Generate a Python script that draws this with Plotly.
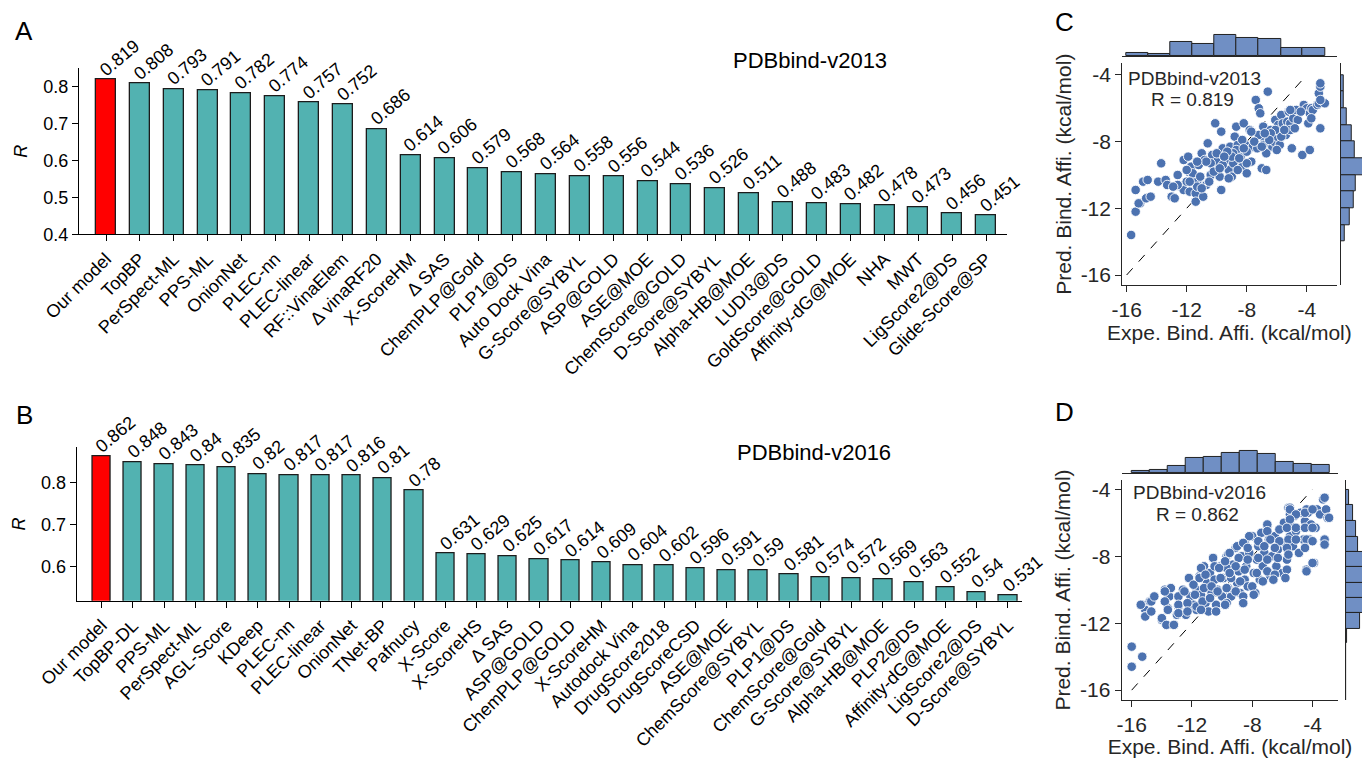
import numpy as np
import plotly.graph_objects as go

FONT = "Liberation Sans, Arial, sans-serif"
TEAL = "#52b2b1"
RED = "#ff0000"
BLUE = "#4c72b0"
HIST_FILL = "rgb(112,143,196)"

# ---------------- bar panels: Pearson R on the core sets ----------------
methods_2013 = ["Our model", "TopBP", "PerSpect-ML", "PPS-ML", "OnionNet", "PLEC-nn",
                "PLEC-linear", "RF::VinaElem", "Δ vinaRF20", "X-ScoreHM", "Δ SAS",
                "ChemPLP@Gold", "PLP1@DS", "Auto Dock Vina", "G-Score@SYBYL", "ASP@GOLD",
                "ASE@MOE", "ChemScore@GOLD", "D-Score@SYBYL", "Alpha-HB@MOE", "LUDI3@DS",
                "GoldScore@GOLD", "Affinity-dG@MOE", "NHA", "MWT", "LigScore2@DS",
                "Glide-Score@SP"]
r_2013 = [0.819, 0.808, 0.793, 0.791, 0.782, 0.774, 0.757, 0.752, 0.686, 0.614, 0.606,
          0.579, 0.568, 0.564, 0.558, 0.556, 0.544, 0.536, 0.526, 0.511, 0.488, 0.483,
          0.482, 0.478, 0.473, 0.456, 0.451]

methods_2016 = ["Our model", "TopBP-DL", "PPS-ML", "PerSpect-ML", "AGL-Score", "KDeep",
                "PLEC-nn", "PLEC-linear", "OnionNet", "TNet-BP", "Pafnucy", "X-Score",
                "X-ScoreHS", "Δ SAS", "ASP@GOLD", "ChemPLP@GOLD", "X-ScoreHM",
                "Autodock Vina", "DrugScore2018", "DrugScoreCSD", "ASE@MOE",
                "ChemScore@SYBYL", "PLP1@DS", "ChemScore@Gold", "G-Score@SYBYL",
                "Alpha-HB@MOE", "PLP2@DS", "Affinity-dG@MOE", "LigScore2@DS", "D-Score@SYBYL"]
r_2016 = [0.862, 0.848, 0.843, 0.84, 0.835, 0.82, 0.817, 0.817, 0.816, 0.81, 0.78, 0.631,
          0.629, 0.625, 0.617, 0.614, 0.609, 0.604, 0.602, 0.596, 0.591, 0.59, 0.581,
          0.574, 0.572, 0.569, 0.563, 0.552, 0.54, 0.531]

# ---------------- scatter panels: experimental vs predicted affinity ----------------
expe_2013 = [-15.7, -15.4, -15.4, -15.1, -15.2, -14.9, -14.6, -14.7, -14.4, -13.9, -13.7,
             -13.4, -13.3, -13.0, -12.8, -12.6, -12.4, -12.2, -11.9, -12.2, -12.0, -11.9,
             -11.8, -11.7, -11.6, -11.4, -11.4, -11.3, -11.2, -11.0, -10.9, -10.8, -10.7,
             -10.6, -10.4, -10.3, -10.1, -10.0, -9.9, -9.8, -9.7, -9.7, -9.6, -9.4, -9.3,
             -9.2, -9.1, -9.0, -8.9, -8.8, -8.7, -8.6, -8.4, -8.3, -8.2, -8.1, -8.0, -7.9,
             -7.8, -7.7, -7.6, -7.4, -7.2, -7.1, -7.0, -6.9, -6.8, -6.7, -6.6, -6.4, -6.3,
             -6.2, -6.1, -6.0, -5.9, -5.8, -5.7, -5.6, -5.4, -5.3, -5.2, -5.1, -5.0, -4.9,
             -4.7, -4.6, -4.3, -4.2, -4.0, -3.9, -3.8, -3.8, -3.7, -3.6, -3.3, -3.2, -3.2,
             -3.1, -3.1, -3.1, -2.8, -3.1, -7.3, -7.2, -7.7, -8.0, -8.3, -8.7, -8.9, -9.6,
             -10.0, -10.4, -11.1, -11.3, -11.8, -12.0, -5.7, -6.1, -6.4, -6.9, -6.7, -6.0,
             -5.1, -8.0, -9.0, -8.6, -9.3, -10.7, -11.3, -12.6, -12.9, -5.1, -4.4, -4.8,
             -3.7, -9.5, -8.5, -7.5, -6.5, -10.2, -9.8, -8.2, -7.0, -6.8, -5.5, -9.2,
             -11.0, -10.5]
pred_2013 = [-13.6, -12.2, -10.9, -11.7, -11.7, -10.4, -10.3, -11.4, -11.3, -10.4, -9.3,
             -10.3, -10.6, -11.3, -11.4, -10.0, -10.7, -9.1, -8.9, -10.9, -10.4, -9.8,
             -11.0, -9.5, -9.9, -11.1, -11.6, -10.4, -9.4, -8.7, -11.3, -9.1, -10.6,
             -8.1, -10.0, -8.8, -6.9, -9.2, -9.7, -10.1, -7.4, -10.9, -8.4, -8.8, -9.1,
             -9.7, -8.3, -10.1, -9.3, -7.7, -7.1, -8.2, -8.9, -9.5, -6.9, -8.2, -9.9, -8.5,
             -7.3, -9.2, -8.3, -5.5, -6.0, -6.3, -9.6, -7.1, -7.9, -9.7, -5.0, -7.3, -8.3,
             -8.0, -6.7, -7.7, -7.0, -8.2, -6.4, -6.9, -7.6, -6.8, -6.2, -6.9, -8.4, -6.6,
             -6.1, -6.7, -8.8, -5.8, -6.0, -6.9, -8.5, -6.3, -6.0, -6.1, -5.8, -5.7, -5.1,
             -7.2, -4.7, -4.5, -5.7, -5.5, -8.4, -7.6, -7.4, -8.6, -7.9, -8.5, -8.7, -9.4,
             -8.7, -9.3, -10.1, -10.7, -10.4, -9.7, -7.7, -7.3, -7.5, -8.2, -8.7, -8.5,
             -7.3, -9.3, -8.9, -9.7, -8.6, -9.2, -9.2, -10.6, -10.7, -6.1, -6.2, -7.2,
             -6.6, -8.9, -9.0, -8.0, -7.9, -9.8, -9.6, -8.4, -8.3, -7.5, -7.3, -10.2,
             -10.8, -10.4]

expe_2016 = [-16.0, -16.0, -15.3, -15.3, -15.1, -15.1, -14.8, -14.5, -14.0, -13.7, -13.2,
             -13.8, -13.8, -13.6, -13.5, -12.9, -12.9, -13.0, -12.4, -12.6, -12.2, -12.1,
             -11.9, -11.7, -11.7, -11.5, -11.4, -11.2, -11.1, -11.0, -10.9, -10.8, -10.7,
             -10.6, -10.5, -10.4, -10.3, -10.1, -10.0, -9.9, -9.8, -9.7, -9.6, -9.5, -9.4,
             -9.3, -9.1, -9.0, -8.9, -8.8, -8.7, -8.6, -8.5, -8.5, -8.4, -8.3, -8.2, -8.0,
             -7.9, -7.8, -7.7, -7.6, -7.5, -7.4, -7.3, -7.2, -7.0, -6.9, -6.8, -6.7, -6.6,
             -6.5, -6.4, -6.3, -6.2, -6.0, -5.9, -5.8, -5.7, -5.6, -5.5, -5.5, -5.4, -5.3,
             -5.2, -5.1, -4.9, -4.8, -4.6, -4.5, -4.4, -4.3, -4.2, -4.1, -3.9, -3.8, -3.7,
             -3.5, -3.3, -3.2, -3.2, -3.1, -3.0, -3.2, -4.4, -5.5,
             -2.9, -5.5, -4.5, -4.0, -5.1, -5.5, -7.0, -7.0, -6.2, -5.7, -5.1, -4.5, -4.0,
             -8.2, -7.6, -6.8, -6.2, -5.6, -5.1, -4.4, -4.0, -3.2, -3.2, -9.0, -8.6, -8.3,
             -7.2, -6.5, -5.7, -4.9, -4.5, -9.6, -8.9, -8.3, -7.6, -7.0, -6.3, -5.6, -9.7,
             -9.1, -8.5, -7.7, -7.0, -6.5, -5.7, -4.4, -4.0, -9.4, -8.8, -7.3, -6.6, -5.8,
             -8.0, -9.6, -9.1, -8.6, -7.9, -8.6, -9.7,
             -10.6, -11.4, -12.2, -13.4, -13.8, -15.4, -14.7, -14.5, -15.1, -14.7, -13.8,
             -13.6, -14.0, -13.7, -13.2, -12.9, -12.9, -12.9, -12.5, -12.3, -12.3, -11.9,
             -11.8, -11.7, -11.5, -11.3, -11.2, -11.1, -10.8, -10.7, -10.5, -10.3, -10.2,
             -10.1, -9.8, -9.7, -9.5, -9.5, -9.8, -10.4, -11.4]
pred_2016 = [-13.4, -14.6, -14.0, -10.9, -11.2, -11.6, -10.7, -10.4, -11.8, -12.1, -12.1,
             -10.0, -10.7, -11.1, -10.4, -10.4, -11.0, -11.5, -11.5, -10.0, -9.3, -10.4,
             -10.9, -10.0, -11.2, -9.2, -10.3, -8.6, -10.8, -9.6, -11.3, -9.0, -10.2,
             -8.1, -9.4, -10.9, -10.0, -8.6, -10.4, -9.3, -10.9, -8.0, -10.0, -9.0, -10.4,
             -8.5, -7.5, -9.6, -8.9, -10.2, -8.0, -10.8, -7.2, -9.4, -8.6, -9.8, -7.8, -6.8,
             -9.0, -10.2, -8.2, -7.4, -9.4, -6.6, -8.6, -7.8, -6.2, -7.0, -9.2, -8.0, -9.4,
             -6.8, -8.6, -7.6, -6.4, -9.0, -6.0, -7.2, -8.2, -5.1, -5.5, -6.8, -6.2, -7.4,
             -5.6, -6.5, -7.8, -5.4, -7.0, -5.9, -8.8, -5.4, -7.0, -6.1, -8.4, -6.3, -5.2,
             -5.5, -4.6, -7.0, -7.3, -5.2, -5.7, -4.5, -5.2, -5.1,
             -5.7, -5.2, -5.4, -5.2, -5.5, -5.8, -6.1, -6.5, -6.4, -6.3, -6.3, -6.3, -6.3,
             -6.8, -7.1, -7.0, -7.1, -7.0, -7.0, -7.0, -7.1, -7.0, -7.3, -7.4, -7.2, -7.5,
             -7.4, -7.5, -7.5, -7.8, -7.5, -7.9, -8.1, -8.2, -8.1, -8.2, -8.1, -7.9, -8.7,
             -8.6, -8.8, -9.0, -8.9, -9.1, -8.8, -8.9, -8.4, -9.3, -9.5, -9.5, -9.4, -9.3,
             -9.8, -9.9, -10.1, -10.4, -10.3, -10.8, -10.8,
             -8.1, -8.7, -9.3, -9.9, -10.1, -10.9, -10.7, -10.4, -11.6, -11.3, -10.7,
             -11.2, -11.7, -12.1, -12.1, -10.4, -10.9, -11.4, -10.1, -10.8, -11.3, -9.7,
             -10.3, -11.0, -9.3, -10.7, -9.9, -9.1, -10.5, -9.8, -8.6, -10.1, -8.7, -9.3,
             -8.3, -9.9, -7.8, -9.0, -10.9, -11.3, -11.2]

# marginal histograms: bin edges and counts
top_edges_2013 = [-16.0, -14.53, -13.07, -11.6, -10.13, -8.67, -7.2, -5.73, -4.27, -2.8]
top_counts_2013 = [6, 3, 26, 23, 39, 34, 32, 16, 16]
side_edges_2013 = [-4.0, -5.0, -6.0, -7.0, -8.0, -9.0, -10.0, -11.0, -12.0, -13.0, -14.0]
side_counts_2013 = [5, 5, 12, 21, 27, 47, 29, 25, 17, 7]

top_edges_2016 = [-16.0, -14.81, -13.61, -12.42, -11.23, -10.03, -8.84, -7.65, -6.45,
                  -5.26, -4.07, -2.88]
top_counts_2016 = [5, 7, 15, 32, 34, 43, 47, 41, 24, 20, 17]
side_edges_2016 = [-4.04, -4.94, -5.88, -6.83, -7.73, -8.66, -9.62, -10.52, -11.41,
                   -12.37, -13.2, -14.12, -15.04, -15.96, -16.88]
side_counts_2016 = [6, 15, 21, 24, 40, 48, 50, 44, 29, 3, 0, 1, 0, 1]

aff_ticks = [-16, -12, -8, -4]
aff_tick_text = ["-16", "-12", "-8", "-4"]

fig = go.Figure()

# ---- bar panels ----
def add_bars(names, vals, xa, ya):
    idx = list(range(len(names)))
    colors = [RED] + [TEAL] * (len(names) - 1)
    fig.add_trace(go.Bar(x=idx, y=vals, width=0.59, marker=dict(color=colors,
                         line=dict(color="#1c1c1c", width=1.3)),
                         xaxis=xa, yaxis=ya, showlegend=False, hoverinfo="skip"))
    # value labels, tilted, sitting on each bar
    for i, v in zip(idx, vals):
        fig.add_annotation(x=i - 0.39, y=v, xref=xa, yref=ya, text=f"{v:g}",
                           textangle=-40, showarrow=False, xanchor="left", yanchor="bottom",
                           yshift=-3, font=dict(family=FONT, size=18, color="black"))

add_bars(methods_2013, r_2013, "x", "y")
add_bars(methods_2016, r_2016, "x2", "y2")

bar_x_common = dict(showline=True, linecolor="black", linewidth=1.3, ticks="outside",
                    ticklen=6, tickwidth=1.2, tickcolor="black", tickangle=-45,
                    tickfont=dict(family=FONT, size=18, color="black"), showgrid=False,
                    zeroline=False, automargin=False)
bar_y_common = dict(showline=True, linecolor="black", linewidth=1.3, ticks="outside",
                    ticklen=6, tickwidth=1.2, tickcolor="black",
                    tickfont=dict(family=FONT, size=18, color="black"), showgrid=False,
                    zeroline=False, automargin=False,
                    title=dict(text="<i>R</i>", font=dict(family=FONT, size=18, color="black"),
                               standoff=10))

fig.update_layout(
    xaxis=dict(domain=[0.0580, 0.7394], range=[-0.8, len(methods_2013) - 0.38],
               tickvals=list(range(len(methods_2013))), ticktext=methods_2013,
               anchor="y", **bar_x_common),
    yaxis=dict(domain=[0.6909, 0.9099], range=[0.4, 0.85], tickvals=[0.4, 0.5, 0.6, 0.7, 0.8],
               ticktext=["0.4", "0.5", "0.6", "0.7", "0.8"], anchor="x", **bar_y_common),
    xaxis2=dict(domain=[0.0563, 0.7504], range=[-0.8, len(methods_2016) - 0.55],
                tickvals=list(range(len(methods_2016))), ticktext=methods_2016,
                anchor="y2", **bar_x_common),
    yaxis2=dict(domain=[0.2075, 0.4099], range=[0.519, 0.883], tickvals=[0.6, 0.7, 0.8],
                ticktext=["0.6", "0.7", "0.8"], anchor="x2", **bar_y_common),
)

# ---- scatter panels with marginal histograms ----
def add_joint(expe, pred, top_edges, top_counts, side_edges, side_counts, n):
    xs, ys = f"x{n}", f"y{n}"
    xt, yt = f"x{n+1}", f"y{n+1}"
    xr, yr = f"x{n+2}", f"y{n+2}"
    fig.add_trace(go.Scatter(x=[-16, -4], y=[-16, -4], mode="lines",
                             line=dict(color="black", width=1, dash="dash"),
                             xaxis=xs, yaxis=ys, showlegend=False, hoverinfo="skip"))
    fig.add_trace(go.Scatter(x=expe, y=pred, mode="markers",
                             marker=dict(color=BLUE, size=9.5, line=dict(color="white", width=0.9)),
                             xaxis=xs, yaxis=ys, showlegend=False))
    te = np.array(top_edges)
    fig.add_trace(go.Bar(x=(te[:-1] + te[1:]) / 2, y=top_counts, width=np.abs(np.diff(te)),
                         marker=dict(color=HIST_FILL, line=dict(color="#222", width=1)),
                         xaxis=xt, yaxis=yt, showlegend=False, hoverinfo="skip"))
    se = np.array(side_edges)
    fig.add_trace(go.Bar(y=(se[:-1] + se[1:]) / 2, x=side_counts, width=np.abs(np.diff(se)),
                         orientation="h",
                         marker=dict(color=HIST_FILL, line=dict(color="#222", width=1)),
                         xaxis=xr, yaxis=yr, showlegend=False, hoverinfo="skip"))

add_joint(expe_2013, pred_2013, top_edges_2013, top_counts_2013, side_edges_2013,
          side_counts_2013, 3)
add_joint(expe_2016, pred_2016, top_edges_2016, top_counts_2016, side_edges_2016,
          side_counts_2016, 6)

sc_tick = dict(family=FONT, size=21, color="#262626")
sc_axis = dict(showline=True, linecolor="#262626", linewidth=1.2, ticks="outside", ticklen=6,
               tickwidth=1.2, tickcolor="#262626", tickfont=sc_tick, showgrid=False,
               zeroline=False, automargin=False, tickvals=aff_ticks, ticktext=aff_tick_text)
hidden = dict(visible=False, showgrid=False, zeroline=False)


def joint_layout(n, xdom, ydom, xr, yr, top_dom, top_max, side_dom, side_max):
    return {
        f"xaxis{n}": dict(domain=xdom, range=xr, anchor=f"y{n}",
                          title=dict(text="Expe. Bind. Affi. (kcal/mol)",
                                     font=dict(family=FONT, size=21, color="#262626"),
                                     standoff=1), **sc_axis),
        f"yaxis{n}": dict(domain=ydom, range=yr, anchor=f"x{n}",
                          title=dict(text="Pred. Bind. Affi. (kcal/mol)",
                                     font=dict(family=FONT, size=21, color="#262626"),
                                     standoff=3), **sc_axis),
        f"xaxis{n+1}": dict(domain=xdom, range=xr, anchor=f"y{n+1}", showline=True,
                            linecolor="#262626", linewidth=1.2, showticklabels=False,
                            ticks="", showgrid=False, zeroline=False),
        f"yaxis{n+1}": dict(domain=top_dom, range=[0, top_max], anchor=f"x{n+1}", **hidden),
        f"xaxis{n+2}": dict(domain=side_dom, range=[0, side_max], anchor=f"y{n+2}", **hidden),
        f"yaxis{n+2}": dict(domain=ydom, range=yr, anchor=f"x{n+2}", showline=True,
                            linecolor="#262626", linewidth=1.2, showticklabels=False,
                            ticks="", showgrid=False, zeroline=False),
    }

fig.update_layout(**joint_layout(3, [0.8240, 0.9813], [0.6240, 0.9165], [-16.29, -2.02],
                                 [-16.6, -3.3], [0.9261, 0.9565], 43.3, [0.9844, 1.0], 41.5))
fig.update_layout(**joint_layout(6, [0.8236, 0.9826], [0.0765, 0.3668], [-16.66, -2.29],
                                 [-16.59, -3.44], [0.3756, 0.4077], 50.5, [0.9883, 1.0], 33))

# in-panel captions
for n, label, r in [(3, "PDBbind-v2013", 0.819), (6, "PDBbind-v2016", 0.862)]:
    fig.add_annotation(x=-16.05, y=-4.2, xref=f"x{n}", yref=f"y{n}", text=label,
                       showarrow=False, xanchor="left", yanchor="middle",
                       font=dict(family=FONT, size=19, color="#262626"))
    fig.add_annotation(x=-11.6, y=-5.5, xref=f"x{n}", yref=f"y{n}", text=f"R = {r:g}",
                       showarrow=False, xanchor="center", yanchor="middle",
                       font=dict(family=FONT, size=19, color="#262626"))

# panel titles and letters
for txt, x, y in [("PDBbind-v2013", 810, 61), ("PDBbind-v2016", 814, 452)]:
    fig.add_annotation(x=x / 1362, y=1 - y / 758, xref="paper", yref="paper", text=txt,
                       showarrow=False, xanchor="center", yanchor="middle",
                       font=dict(family=FONT, size=22, color="black"))
for txt, x, y in [("A", 24, 31), ("B", 24, 415), ("C", 1064, 22), ("D", 1064, 412)]:
    fig.add_annotation(x=x / 1362, y=1 - y / 758, xref="paper", yref="paper", text=txt,
                       showarrow=False, xanchor="center", yanchor="middle",
                       font=dict(family=FONT, size=26, color="black"))

fig.update_layout(width=1362, height=758, margin=dict(l=0, r=0, t=0, b=0),
                  paper_bgcolor="white", plot_bgcolor="white", bargap=0,
                  font=dict(family=FONT), showlegend=False)

fig.write_html("out.html")
